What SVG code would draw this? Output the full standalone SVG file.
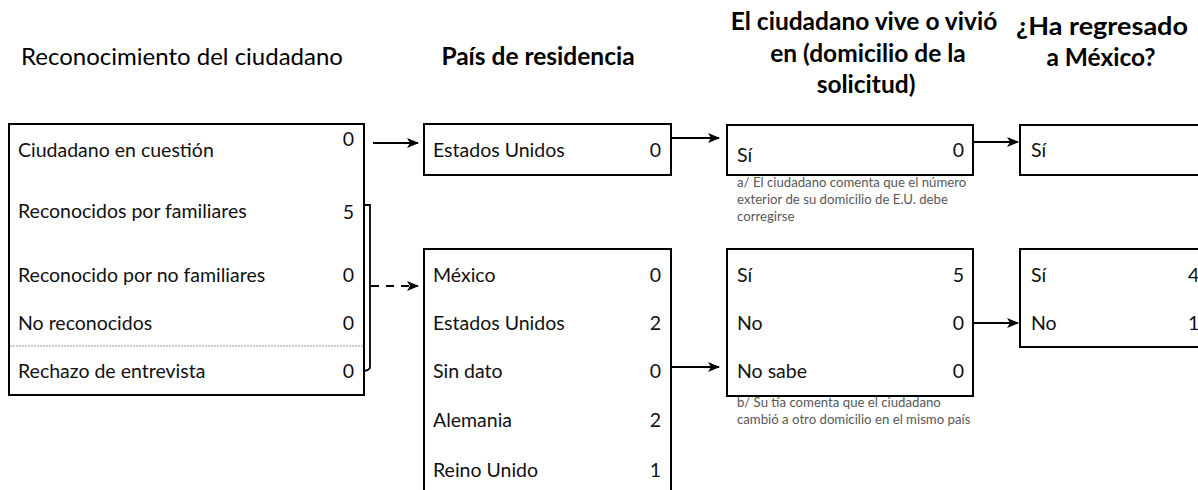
<svg xmlns="http://www.w3.org/2000/svg" width="1198" height="490" viewBox="0 0 1198 490">
<defs>
<style>
.hd{font-family:Lato,"Open Sans",sans-serif;font-size:24px;fill:#000}
.hb{font-weight:bold;font-size:24.5px}
.t{font-family:Lato,"Open Sans",sans-serif;font-size:19.5px;fill:#111}
.n{text-anchor:end}
.note{font-family:Lato,"Open Sans",sans-serif;font-size:13.2px;fill:#595959}
.box{fill:#fff;stroke:#000;stroke-width:2}
.c{fill:none;stroke:#000;stroke-width:1.8}
</style>
<marker id="ah" viewBox="0 0 12 10" refX="11" refY="5" markerWidth="12" markerHeight="10" markerUnits="userSpaceOnUse" orient="auto">
<path d="M0,0 L12,5 L0,10 L3,5 Z" fill="#000"/>
</marker>
</defs>
<rect width="1198" height="490" fill="#fff"/>

<g id="headers">
<text class="hd" x="182" y="65" text-anchor="middle">Reconocimiento del ciudadano</text>
<text class="hd hb" x="538" y="65" text-anchor="middle">País de residencia</text>
<text class="hd hb" x="864" y="30" text-anchor="middle">El ciudadano vive o vivió</text>
<text class="hd hb" x="868" y="62" text-anchor="middle">en (domicilio de la</text>
<text class="hd hb" x="866" y="93" text-anchor="middle">solicitud)</text>
<text class="hd hb" x="1102" y="35" text-anchor="middle" textLength="172" lengthAdjust="spacingAndGlyphs">¿Ha regresado</text>
<text class="hd hb" x="1101" y="66" text-anchor="middle">a México?</text>
</g>

<g id="node-reconocimiento">
<rect class="box" x="9" y="124" width="355" height="271"/>
<line x1="10" y1="346" x2="363" y2="346" stroke="#999" stroke-width="1" stroke-dasharray="2,1"/>
<text class="t" x="18" y="157">Ciudadano en cuestión</text><text class="t n" x="354" y="146">0</text>
<text class="t" x="18" y="218">Reconocidos por familiares</text><text class="t n" x="354" y="219">5</text>
<text class="t" x="18" y="282">Reconocido por no familiares</text><text class="t n" x="354" y="282">0</text>
<text class="t" x="18" y="330">No reconocidos</text><text class="t n" x="354" y="330">0</text>
<text class="t" x="18" y="378">Rechazo de entrevista</text><text class="t n" x="354" y="378">0</text>
</g>

<g id="node-pais-eu">
<rect class="box" x="424" y="124" width="247" height="51"/>
<text class="t" x="433" y="157">Estados Unidos</text><text class="t n" x="661" y="157">0</text>
</g>

<g id="node-pais-lista">
<path class="box" d="M424,500 V249 H671 V500"/>
<text class="t" x="433" y="282">México</text><text class="t n" x="661" y="282">0</text>
<text class="t" x="433" y="330">Estados Unidos</text><text class="t n" x="661" y="330">2</text>
<text class="t" x="433" y="378">Sin dato</text><text class="t n" x="661" y="378">0</text>
<text class="t" x="433" y="427">Alemania</text><text class="t n" x="661" y="427">2</text>
<text class="t" x="433" y="477">Reino Unido</text><text class="t n" x="661" y="477">1</text>
</g>

<g id="node-domicilio-si">
<rect class="box" x="727" y="125" width="246" height="50"/>
<text class="t" x="737" y="162">Sí</text><text class="t n" x="964" y="157">0</text>
<text class="note" x="737" y="187">a/ El ciudadano comenta que el número</text>
<text class="note" x="737" y="204">exterior de su domicilio de E.U. debe</text>
<text class="note" x="737" y="221">corregirse</text>
</g>

<g id="node-domicilio-lista">
<rect class="box" x="727" y="249" width="246" height="147"/>
<text class="t" x="737" y="282">Sí</text><text class="t n" x="964" y="282">5</text>
<text class="t" x="737" y="330">No</text><text class="t n" x="964" y="330">0</text>
<text class="t" x="737" y="378">No sabe</text><text class="t n" x="964" y="378">0</text>
<text class="note" x="737" y="407">b/ Su tía comenta que el ciudadano</text>
<text class="note" x="737" y="424">cambió a otro domicilio en el mismo país</text>
</g>

<g id="node-regreso-si">
<rect class="box" x="1020" y="125" width="200" height="50"/>
<text class="t" x="1031" y="157">Sí</text>
</g>

<g id="node-regreso-lista">
<rect class="box" x="1020" y="249" width="200" height="98"/>
<text class="t" x="1031" y="282">Sí</text><text class="t" x="1188" y="282">4</text>
<text class="t" x="1031" y="330">No</text><text class="t" x="1188" y="330">1</text>
</g>

<g id="connectors">
<line class="c" x1="373" y1="143" x2="418" y2="143" marker-end="url(#ah)"/>
<path class="c" d="M364,205 H370 V367 Q370,370 364,371"/>
<line class="c" x1="371" y1="286" x2="418" y2="286" stroke-dasharray="8,7" marker-end="url(#ah)"/>
<line class="c" x1="672" y1="138" x2="719" y2="138" marker-end="url(#ah)"/>
<line class="c" x1="672" y1="367" x2="719" y2="367" marker-end="url(#ah)"/>
<line class="c" x1="974" y1="142" x2="1018" y2="142" marker-end="url(#ah)"/>
<line class="c" x1="974" y1="323" x2="1018" y2="323" marker-end="url(#ah)"/>
</g>
</svg>
